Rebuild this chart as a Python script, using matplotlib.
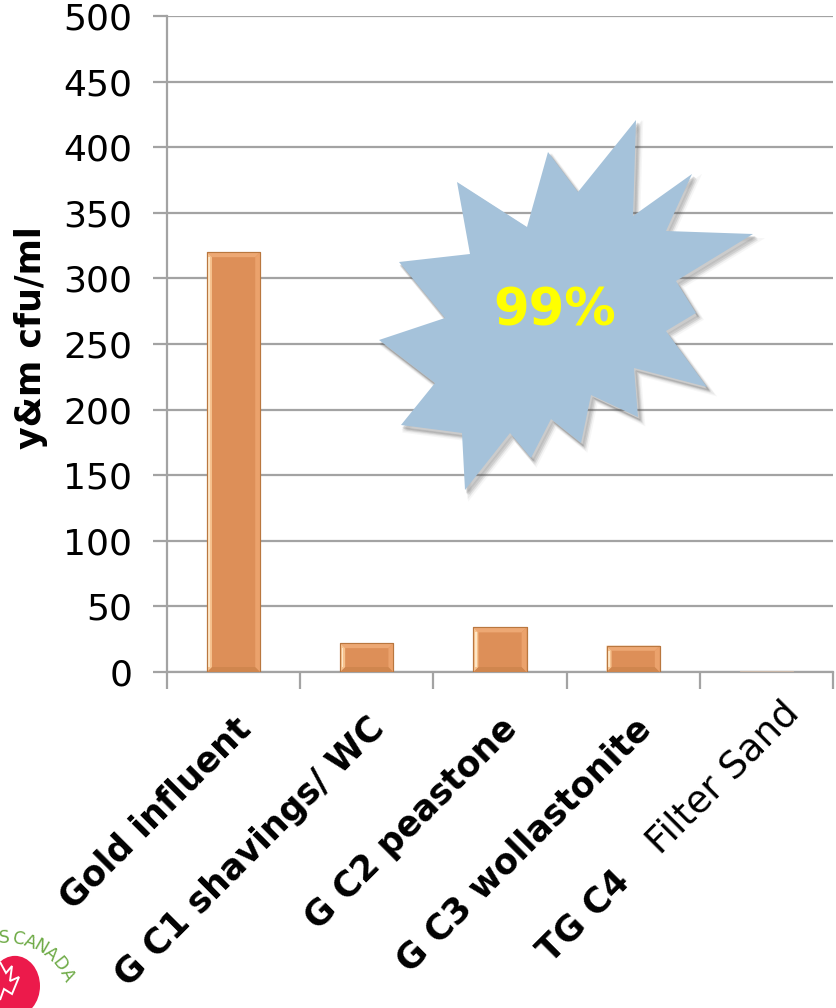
import numpy as np
import matplotlib
matplotlib.use("Agg")
import matplotlib.pyplot as plt
from matplotlib.patches import Polygon, Rectangle, Circle
from matplotlib.transforms import offset_copy

# ---- data ----
categories = ["Gold influent", "G C1 shavings/ WC", "G C2 peastone",
              "G C3 wollastonite", "TG C4"]
last_suffix = "Filter Sand"
counts = [320, 22, 34, 20, 1]
y_ticks = list(range(0, 501, 50))
y_label = "y&m cfu/ml"
callout = "99%"

W, H, DPI = 836, 1008, 100
plt.rcParams["font.family"] = ["DejaVu Sans"]

fig = plt.figure(figsize=(W / DPI, H / DPI), dpi=DPI)
ax = fig.add_axes([167 / W, 1 - 672 / H, (833 - 167) / W, (672 - 16) / H])

grid_c = "#A3A3A3"
bar_face = "#DD8F58"
x = np.arange(len(categories))
bw = 0.4

ax.set_xlim(-0.5, len(categories) - 0.5)
ax.set_ylim(0, 500)
ax.set_yticks(y_ticks)
ax.set_yticklabels([str(v) for v in y_ticks], fontsize=26)
ax.yaxis.grid(True, color=grid_c, linewidth=1.6, zorder=0)
ax.set_axisbelow(True)
ax.tick_params(axis="y", length=10, width=1.6, color=grid_c, pad=15)

# category boundaries carry the x ticks
ax.set_xticks(np.arange(-0.5, len(categories), 1.0))
ax.set_xticklabels([])
ax.tick_params(axis="x", length=12, width=1.6, color=grid_c)

for s in ("top", "right"):
    ax.spines[s].set_visible(False)
for s in ("left", "bottom"):
    ax.spines[s].set_color(grid_c)
    ax.spines[s].set_linewidth(1.6)

# bars with a bevelled look
bars = ax.bar(x, counts, width=bw, color=bar_face, edgecolor="#B9773F",
              linewidth=0.8, zorder=3)
px_x = 1.0 / 133.2       # data units per pixel, horizontally
px_y = 500.0 / 656.0     # data units per pixel, vertically
for b in bars:
    bx, by = b.get_x(), b.get_y()
    bwid, bh = b.get_width(), b.get_height()
    if bh < 3:
        b.set_facecolor("#C9B7A8")
        b.set_edgecolor("#C9B7A8")
        continue
    e = 5
    ax.add_patch(Polygon([(bx, by + bh), (bx + bwid, by + bh),
                          (bx + bwid - e * px_x, by + bh - e * px_y),
                          (bx + e * px_x, by + bh - e * px_y)],
                         facecolor="#EDA874", edgecolor="none", zorder=4))
    ax.add_patch(Polygon([(bx, by), (bx + bwid, by),
                          (bx + bwid - e * px_x, by + e * px_y),
                          (bx + e * px_x, by + e * px_y)],
                         facecolor="#D0864E", edgecolor="none", zorder=4))
    ax.add_patch(Polygon([(bx, by), (bx, by + bh),
                          (bx + e * px_x, by + bh - e * px_y),
                          (bx + e * px_x, by + e * px_y)],
                         facecolor="#F6C28F", edgecolor="none", zorder=4))
    ax.add_patch(Rectangle((bx + 1.5 * px_x, by + e * px_y), 1.8 * px_x,
                           bh - 2 * e * px_y, facecolor="#FDE6C6",
                           edgecolor="none", zorder=5))
    ax.add_patch(Polygon([(bx + bwid, by), (bx + bwid, by + bh),
                          (bx + bwid - e * px_x, by + bh - e * px_y),
                          (bx + bwid - e * px_x, by + e * px_y)],
                         facecolor="#EBA26C", edgecolor="none", zorder=4))
    ax.add_patch(Rectangle((bx, by), bwid, bh, facecolor="none",
                           edgecolor="#B9773F", linewidth=0.8, zorder=6))

ax.set_ylabel(y_label, fontsize=25, fontweight="bold")
ax.yaxis.set_label_coords(-0.178, 0.51)

# rotated category labels
lab_y = -0.045
lab_fs = 25
for i, name in enumerate(categories[:-1]):
    t = offset_copy(ax.get_xaxis_transform(), fig=fig, x=0, y=-10, units="dots")
    ax.text(i, lab_y, name, transform=t, rotation=45, rotation_mode="anchor",
            ha="right", va="top", fontsize=lab_fs, fontweight="bold",
            clip_on=False)

i = len(categories) - 1
t = offset_copy(ax.get_xaxis_transform(), fig=fig, x=15, y=7, units="dots")
tx = ax.text(i, lab_y, " " + last_suffix, transform=t, rotation=45,
             rotation_mode="anchor", ha="right", va="top", fontsize=27,
             clip_on=False)
fig.canvas.draw()
bb = tx.get_window_extent()
# bold prefix continues along the same diagonal
t2 = offset_copy(t, fig=fig, x=-bb.width + 5, y=-bb.height + 5, units="dots")
ax.text(i, lab_y, categories[-1], transform=t2, rotation=45,
        rotation_mode="anchor", ha="right", va="top", fontsize=lab_fs,
        fontweight="bold", clip_on=False)

# starburst callout (figure pixel coordinates)
star_px = [(457, 182), (527, 227), (548, 152), (578, 192), (636, 120),
           (633, 216), (692, 174), (666, 231), (753, 234), (676, 281),
           (696, 313), (666, 331), (707, 387), (634, 368), (638, 417),
           (591, 395), (581, 443), (551, 419), (531, 458), (510, 433),
           (465, 490), (462, 433), (401, 425), (435, 383), (379, 340),
           (445, 318), (399, 262), (470, 254)]
star = np.array([(px / W, 1 - py / H) for px, py in star_px])
for k, a in enumerate([0.05, 0.07, 0.09, 0.12]):
    off = np.array([(5 - k) / W, -(6 - k) / H])
    fig.patches.append(Polygon(star + off, closed=True, transform=fig.transFigure,
                               facecolor="#555555", edgecolor="#555555",
                               linewidth=3 - k * 0.6, alpha=a, zorder=5))
fig.patches.append(Polygon(star, closed=True, transform=fig.transFigure,
                           facecolor="#A5C2DA", edgecolor="none", zorder=6))
fig.text(555 / W, 1 - 312 / H, callout, color="#FFFF00", fontsize=37,
         fontweight="bold", ha="center", va="center", zorder=7)

# partial logo in the corner
fig.patches.append(Circle((15 / W, 1 - 986 / H), 25 / W, transform=fig.transFigure,
                          facecolor="#EC1A4B", edgecolor="none", zorder=2))
leaf = [(0, 962), (6, 973), (12, 966), (10, 981), (19, 977), (12, 994),
        (4, 989), (0, 1000)]
fig.patches.append(Polygon([(a / W, 1 - b / H) for a, b in leaf], closed=False,
                           transform=fig.transFigure, fill=False,
                           edgecolor="white", linewidth=1.4, zorder=3))
arc_txt = "S CANADA"
arc_angles = [92, 86, 80, 70, 60, 49, 38, 27]
cx, cy, r = 7, 1005, 67
for ch, a in zip(arc_txt, arc_angles):
    if ch == " ":
        continue
    px = cx + r * np.cos(np.radians(a))
    py = cy - r * np.sin(np.radians(a))
    fig.text(px / W, 1 - py / H, ch, color="#6DAA45", fontsize=12.5,
             rotation=a - 90, ha="center", va="center",
             rotation_mode="anchor")

fig.savefig("out.png", dpi=DPI)
